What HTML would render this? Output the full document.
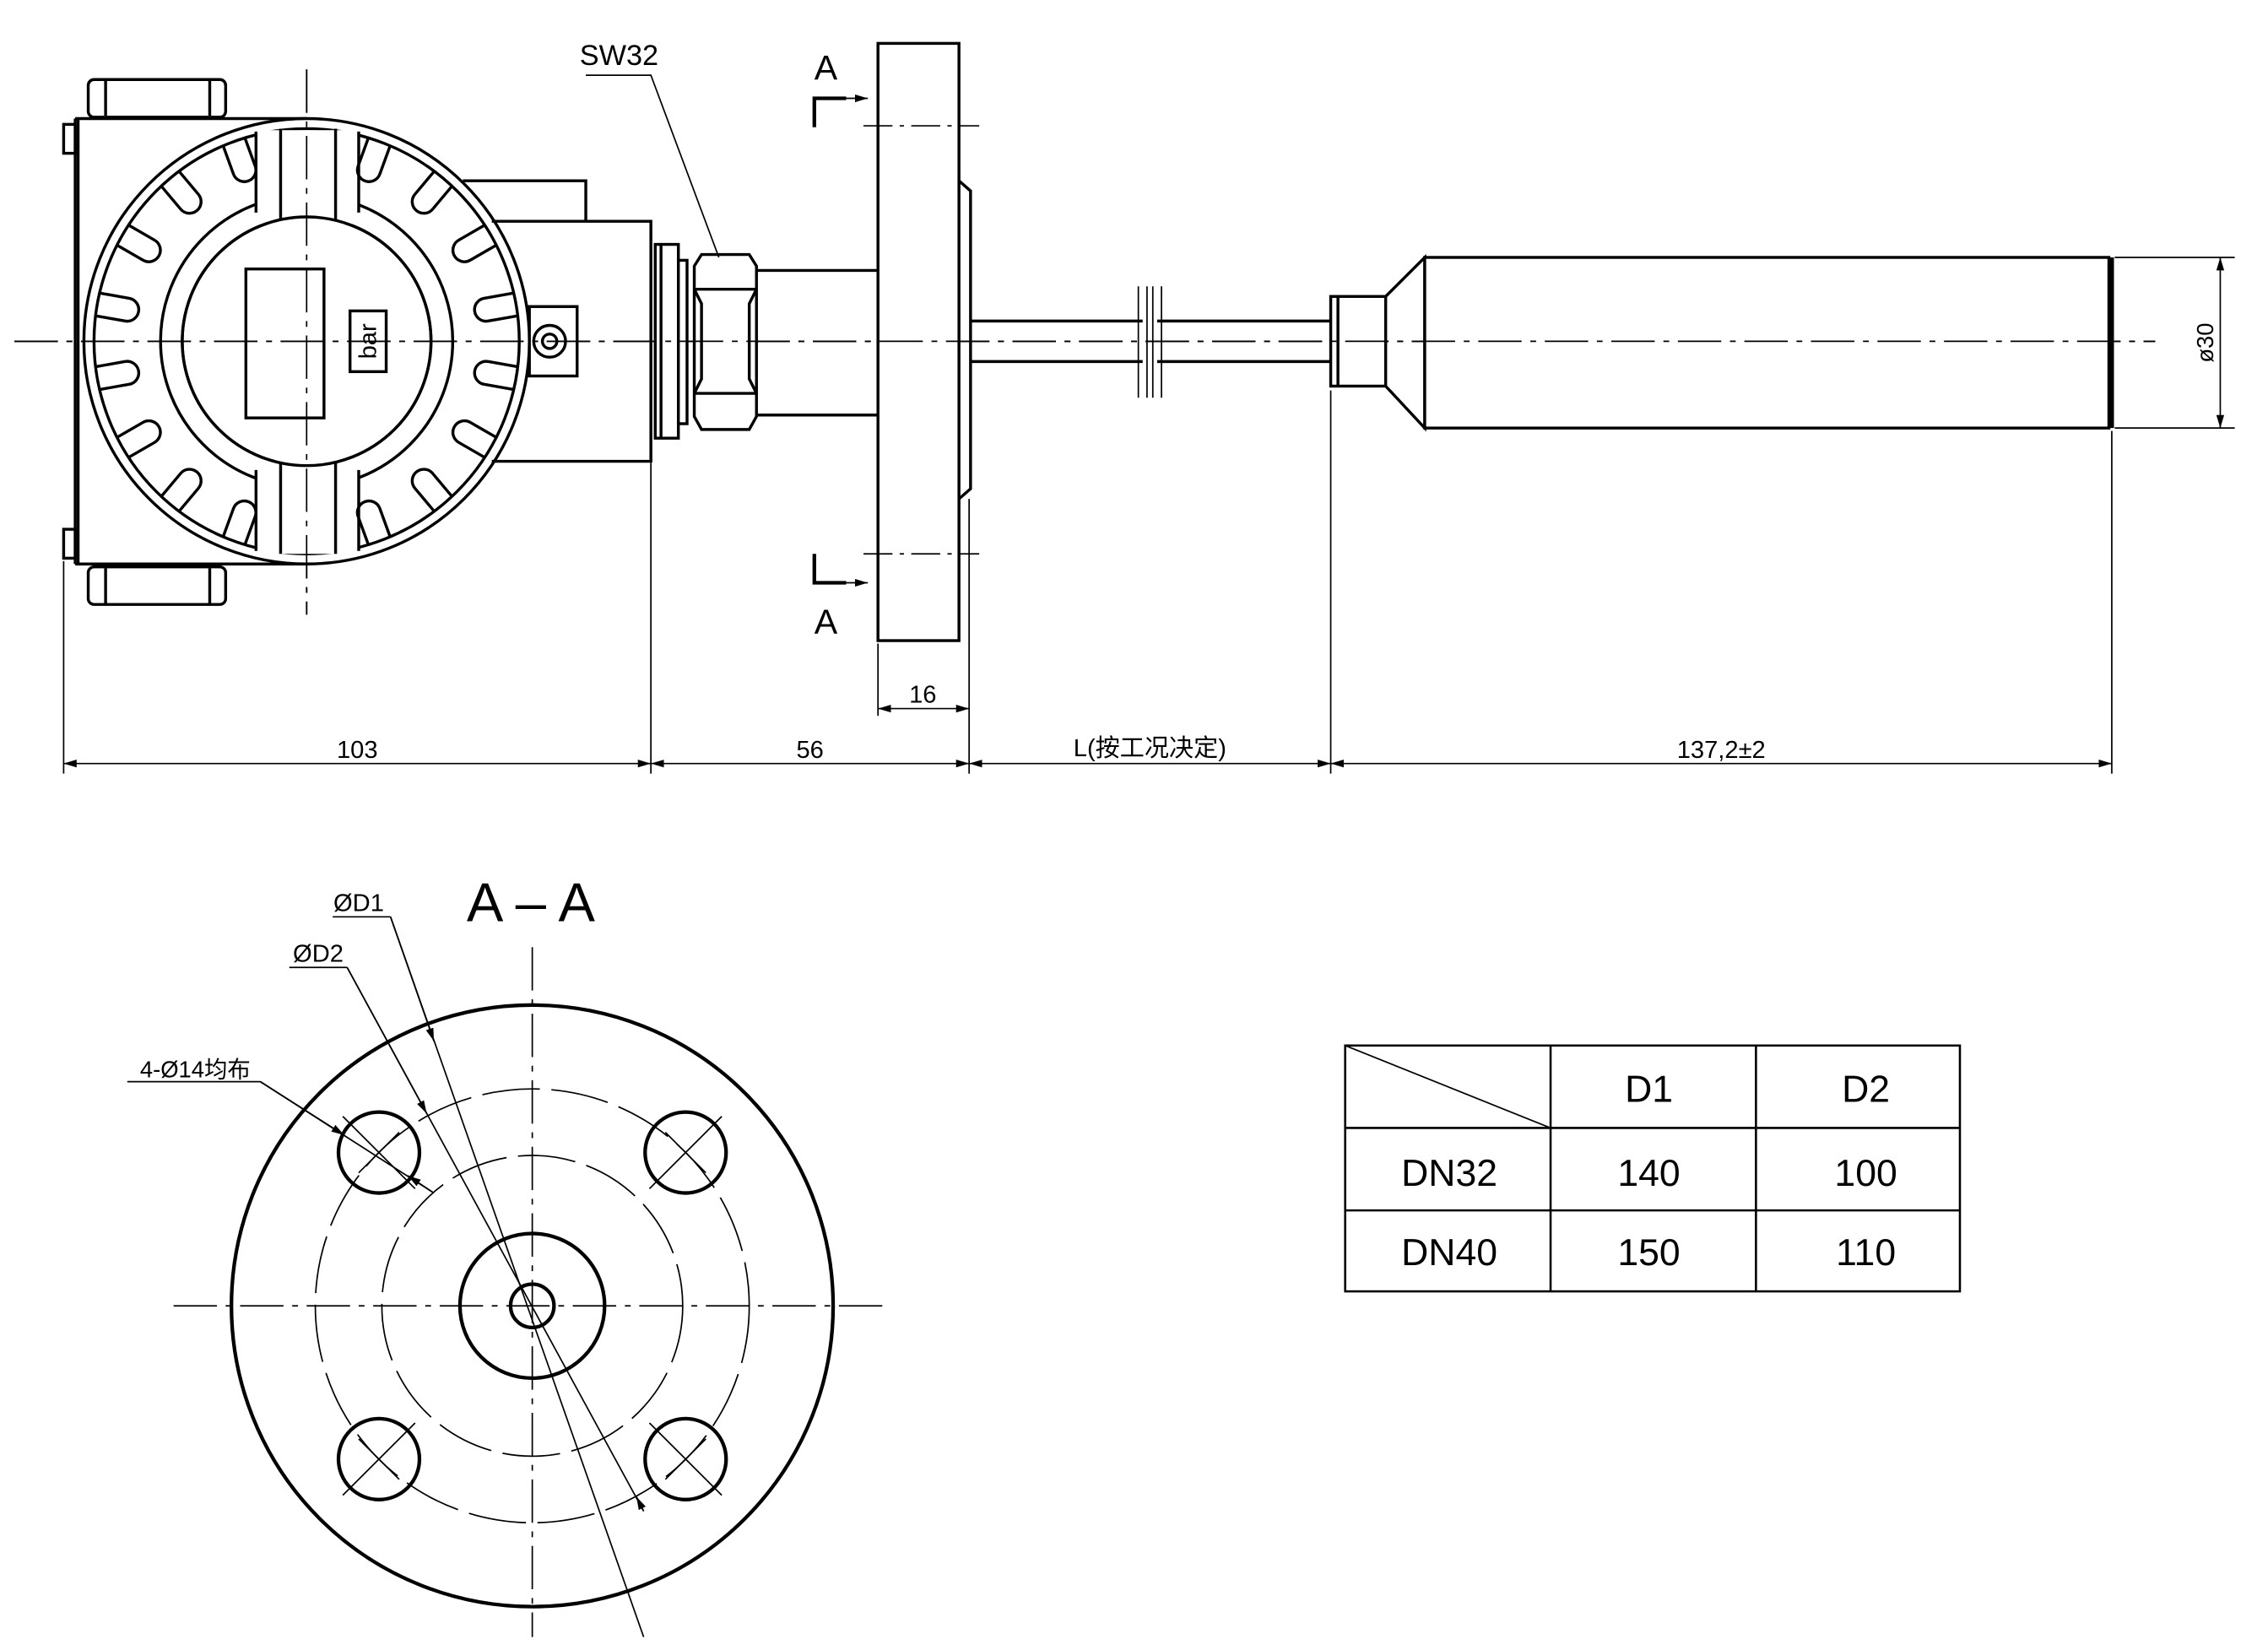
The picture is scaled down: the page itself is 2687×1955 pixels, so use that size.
<!DOCTYPE html>
<html><head><meta charset="utf-8"><style>
html,body{margin:0;padding:0;background:#fff}
svg{display:block}
text{font-family:"Liberation Sans","Noto Sans CJK SC",sans-serif;fill:#000}
</style></head><body>
<svg width="2687" height="1955" viewBox="0 0 1568 1141" preserveAspectRatio="none" xmlns="http://www.w3.org/2000/svg">
<defs>
<marker id="ar" viewBox="0 0 10 10" refX="10" refY="5" markerWidth="9" markerHeight="9" markerUnits="userSpaceOnUse" orient="auto-start-reverse"><path d="M0,2 L10,5 L0,8Z" fill="#000"/></marker>
<path id="slot" d="M146,-8 L126,-8 A8,8 0 0 0 126,8 L146,8" fill="none" stroke="#000" stroke-width="2"/>
</defs>
<g fill="none" stroke="#000">
<line x1="10" y1="236" x2="1490" y2="236" stroke-width="1" stroke-dasharray="30,6,4,6"/>
<line x1="212" y1="48" x2="212" y2="425" stroke-width="1" stroke-dasharray="30,6,4,6"/>
<g stroke-width="2">
<rect x="61" y="55" width="95" height="26" rx="4"/>
<rect x="61" y="392" width="95" height="26" rx="4"/>
<line x1="73" y1="56" x2="73" y2="80"/><line x1="145" y1="56" x2="145" y2="80"/>
<line x1="73" y1="393" x2="73" y2="417"/><line x1="145" y1="393" x2="145" y2="417"/>
<rect x="44" y="86" width="8" height="20"/><rect x="44" y="366" width="8" height="20"/>
<line x1="52" y1="82" x2="212" y2="82"/><line x1="52" y1="390" x2="212" y2="390"/>
<line x1="52" y1="82" x2="52" y2="390"/><line x1="54" y1="82" x2="54" y2="390"/>
<circle cx="212" cy="236" r="154" fill="#fff"/>
<circle cx="212" cy="236" r="147"/>
<circle cx="212" cy="236" r="101"/>
<circle cx="212" cy="236" r="86"/>
<rect x="170" y="186" width="54" height="103"/>
<rect x="242" y="215" width="25" height="42" fill="#fff"/>
<path d="M320,125 H405 V153 M340,153 H450 V319 H340"/>
<rect x="366" y="212" width="33" height="48" fill="#fff"/>
<circle cx="380" cy="236" r="11"/><circle cx="380" cy="236" r="5"/>
</g>
<g stroke-width="2">
<rect x="177" y="90" width="71" height="65" fill="#fff" stroke="none"/>
<rect x="177" y="318" width="71" height="65" fill="#fff" stroke="none"/>
<line x1="177" y1="91" x2="177" y2="147"/><line x1="194" y1="89" x2="194" y2="152"/>
<line x1="232" y1="89" x2="232" y2="152"/><line x1="248" y1="91" x2="248" y2="147"/>
<line x1="177" y1="325" x2="177" y2="381"/><line x1="194" y1="320" x2="194" y2="383"/>
<line x1="232" y1="320" x2="232" y2="383"/><line x1="248" y1="325" x2="248" y2="381"/>
<circle cx="212" cy="236" r="86"/>
</g>
<g transform="translate(212,236)">
<use href="#slot" transform="rotate(10)"/><use href="#slot" transform="rotate(30)"/><use href="#slot" transform="rotate(50)"/><use href="#slot" transform="rotate(70)"/>
<use href="#slot" transform="rotate(-10)"/><use href="#slot" transform="rotate(-30)"/><use href="#slot" transform="rotate(-50)"/><use href="#slot" transform="rotate(-70)"/>
<use href="#slot" transform="rotate(170)"/><use href="#slot" transform="rotate(150)"/><use href="#slot" transform="rotate(130)"/><use href="#slot" transform="rotate(110)"/>
<use href="#slot" transform="rotate(190)"/><use href="#slot" transform="rotate(210)"/><use href="#slot" transform="rotate(230)"/><use href="#slot" transform="rotate(250)"/>
</g>
<line x1="212" y1="48" x2="212" y2="425" stroke-width="1" stroke-dasharray="30,6,4,6"/>
<line x1="10" y1="236" x2="1490" y2="236" stroke-width="1" stroke-dasharray="30,6,4,6"/>
<g stroke-width="2">
<rect x="453" y="169" width="16" height="134" fill="#fff"/>
<line x1="457" y1="169" x2="457" y2="303"/>
<rect x="469" y="180" width="6" height="113" fill="#fff"/>
<path d="M480,184 L485,176 H518 L523,184 V288 L518,297 H485 L480,288Z" fill="#fff"/>
<line x1="480" y1="200" x2="523" y2="200"/><line x1="480" y1="272" x2="523" y2="272"/>
<path d="M480,200 L485,210 V262 L480,272 M523,200 L518,210 V262 L523,272"/>
<path d="M523,187 H607 M523,287 H607"/>
<rect x="607" y="30" width="56" height="413" fill="#fff"/>
<path d="M663,125 L671,132 V338 L663,345"/>
<line x1="671" y1="222" x2="790" y2="222"/><line x1="671" y1="250" x2="790" y2="250"/>
<line x1="800" y1="222" x2="920" y2="222"/><line x1="800" y1="250" x2="920" y2="250"/>
<rect x="920" y="205" width="38" height="62" fill="#fff"/>
<line x1="925" y1="205" x2="925" y2="267"/>
<path d="M958,205 L985,178 V296 L958,267"/>
<rect x="985" y="178" width="473" height="118" fill="#fff"/>
<line x1="1460" y1="178" x2="1460" y2="296" stroke-width="3"/>
</g>
<line x1="10" y1="236" x2="1490" y2="236" stroke-width="1" stroke-dasharray="30,6,4,6"/>
<g stroke-width="1">
<path d="M787,198 V275 M793,198 V275 M797,198 V275 M803,198 V275"/>
<line x1="597" y1="87" x2="677" y2="87" stroke-dasharray="20,5,3,5"/>
<line x1="597" y1="383" x2="677" y2="383" stroke-dasharray="20,5,3,5"/>
<path d="M44,388 V535 M450,320 V535 M670,345 V535 M920,270 V535 M1460,298 V535 M607,445 V495"/>
<path d="M1462,178 H1545 M1462,296 H1545"/>
<line x1="1535" y1="178" x2="1535" y2="296" marker-start="url(#ar)" marker-end="url(#ar)"/>
<line x1="44" y1="528" x2="450" y2="528" marker-start="url(#ar)" marker-end="url(#ar)"/>
<line x1="450" y1="528" x2="670" y2="528" marker-start="url(#ar)" marker-end="url(#ar)"/>
<line x1="670" y1="528" x2="920" y2="528" marker-start="url(#ar)" marker-end="url(#ar)"/>
<line x1="920" y1="528" x2="1460" y2="528" marker-start="url(#ar)" marker-end="url(#ar)"/>
<line x1="607" y1="490" x2="670" y2="490" marker-start="url(#ar)" marker-end="url(#ar)"/>
<path d="M405,52 H450 L497,178"/>
</g>
<g stroke-width="2.5"><path d="M563,88 V68 H585 M563,383 V403 H585"/></g>
<line x1="580" y1="68" x2="600" y2="68" stroke-width="1" marker-end="url(#ar)"/>
<line x1="580" y1="403" x2="600" y2="403" stroke-width="1" marker-end="url(#ar)"/>
<line x1="120" y1="903" x2="615" y2="903" stroke-width="1" stroke-dasharray="30,6,4,6"/>
<line x1="368" y1="655" x2="368" y2="1132" stroke-width="1" stroke-dasharray="30,6,4,6"/>
<circle cx="368" cy="903" r="208" stroke-width="2.5"/>
<circle cx="368" cy="903" r="150" stroke-width="1" stroke-dasharray="40,8"/>
<circle cx="368" cy="903" r="104" stroke-width="1" stroke-dasharray="40,8"/>
<circle cx="368" cy="903" r="50" stroke-width="2.5"/>
<circle cx="368" cy="903" r="15" stroke-width="2.5"/>
<g stroke-width="2.5">
<circle cx="262" cy="797" r="28"/><circle cx="474" cy="797" r="28"/>
<circle cx="262" cy="1009" r="28"/><circle cx="474" cy="1009" r="28"/>
</g>
<g stroke-width="1">
<path d="M237,772 L287,822 M499,772 L449,822 M237,1034 L287,984 M499,1034 L449,984"/>
<path d="M248,811 L276,783 M460,783 L488,811 M248,995 L276,1023 M460,1023 L488,995"/>
<path d="M270,634 H230 M270,634 L445,1132"/>
<path d="M240,669 H200 M240,669 L445,1045"/>
<path d="M180,748 H88 M180,748 L300,825"/>
</g>
<line x1="270" y1="634" x2="300" y2="720" stroke-width="1" marker-end="url(#ar)"/>
<line x1="240" y1="669" x2="295" y2="770" stroke-width="1" marker-end="url(#ar)"/>
<line x1="180" y1="748" x2="238" y2="785" stroke-width="1" marker-end="url(#ar)"/>
<line x1="300" y1="825" x2="282" y2="813" stroke-width="1" marker-end="url(#ar)"/>
<line x1="445" y1="1045" x2="440" y2="1035" stroke-width="1" marker-end="url(#ar)"/>
<g stroke-width="1.5">
<rect x="930" y="723" width="425" height="170"/>
<path d="M930,780 H1355 M930,837 H1355 M1072,723 V893 M1214,723 V893"/>
<line x1="930" y1="723" x2="1072" y2="780" stroke-width="1"/>
</g>
</g>
<g font-size="20">
<text x="428" y="45" text-anchor="middle">SW32</text>
<text x="571" y="55" text-anchor="middle" font-size="24">A</text>
<text x="571" y="438" text-anchor="middle" font-size="24">A</text>
<text x="247" y="524" text-anchor="middle" font-size="17">103</text>
<text x="560" y="524" text-anchor="middle" font-size="17">56</text>
<text x="795" y="523" text-anchor="middle" font-size="17">L(按工况决定)</text>
<text x="1190" y="524" text-anchor="middle" font-size="17">137,2±2</text>
<text x="638" y="486" text-anchor="middle" font-size="17">16</text>
<text transform="translate(1530,237) rotate(-90)" text-anchor="middle" font-size="16">ø30</text>
<text transform="translate(260,236) rotate(-90)" text-anchor="middle" font-size="17" font-family="Liberation Serif">bar</text>
<text x="367" y="637" text-anchor="middle" font-size="38">A – A</text>
<text x="248" y="630" text-anchor="middle" font-size="17">ØD1</text>
<text x="220" y="665" text-anchor="middle" font-size="17">ØD2</text>
<text x="135" y="745" text-anchor="middle" font-size="16">4-Ø14均布</text>
<text x="1140" y="762" text-anchor="middle" font-size="26">D1</text>
<text x="1290" y="762" text-anchor="middle" font-size="26">D2</text>
<text x="1002" y="820" text-anchor="middle" font-size="26">DN32</text>
<text x="1140" y="820" text-anchor="middle" font-size="26">140</text>
<text x="1290" y="820" text-anchor="middle" font-size="26">100</text>
<text x="1002" y="875" text-anchor="middle" font-size="26">DN40</text>
<text x="1140" y="875" text-anchor="middle" font-size="26">150</text>
<text x="1290" y="875" text-anchor="middle" font-size="26">110</text>
</g>
</svg>
</body></html>
